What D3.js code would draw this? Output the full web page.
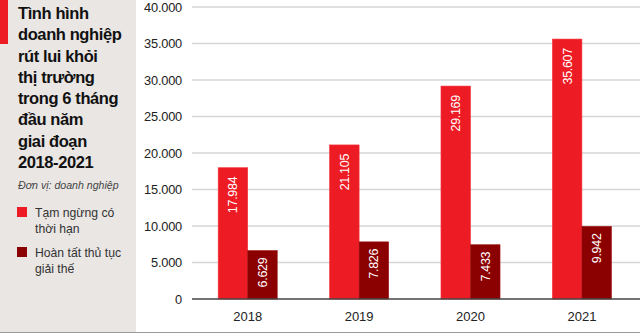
<!DOCTYPE html>
<html><head><meta charset="utf-8">
<script src="https://cdn.jsdelivr.net/npm/d3@7"></script>
<style>
html,body{margin:0;padding:0;background:#fff;}
svg{display:block;}
</style></head>
<body>
<svg id="c" width="640" height="335"></svg>
<script>
const years = ["2018","2019","2020","2021"];
const tamNgung = [17984, 21105, 29169, 35607];
const giaiThe = [6629, 7826, 7433, 9942];
const yTicks = [0,5000,10000,15000,20000,25000,30000,35000,40000];
const titleLines = ["Tình hình","doanh nghiệp","rút lui khỏi","thị trường","trong 6 tháng","đầu năm","giai đoạn","2018-2021"];
const unitText = "Đơn vị: doanh nghiệp";
const seriesNames = [["Tạm ngừng có","thời hạn"],["Hoàn tất thủ tục","giải thế"]];
const colors = ["#ed1c24","#8b0000"];

const svg = d3.select("#c");
const fmt = v => d3.format(",")(v).replace(/,/g,".");

// left panel
svg.append("rect").attr("x",0).attr("y",0).attr("width",136).attr("height",332).attr("fill","#e9e6e3");
svg.append("rect").attr("x",0).attr("y",0).attr("width",8).attr("height",44).attr("fill","#ed1c24");
svg.append("line").attr("x1",0).attr("x2",640).attr("y1",332.5).attr("y2",332.5).attr("stroke","#9a9a9a").attr("stroke-width",1);

const tg = svg.append("text").attr("font-family","Liberation Sans, Arial, sans-serif").attr("font-weight","bold")
  .attr("font-size",16.5).attr("fill","#111").attr("letter-spacing",-0.4);
titleLines.forEach((t,i)=>{
  tg.append("tspan").attr("x",18).attr("y",19+i*21.25).text(t);
});
svg.append("text").attr("x",18).attr("y",189).attr("font-family","Liberation Sans, Arial, sans-serif")
  .attr("font-style","italic").attr("font-size",10.6).attr("fill","#444").text(unitText);

const legY = [207,247];
seriesNames.forEach((lines,i)=>{
  svg.append("rect").attr("x",17).attr("y",legY[i]).attr("width",10).attr("height",10).attr("fill",colors[i]);
  const t = svg.append("text").attr("font-family","Liberation Sans, Arial, sans-serif").attr("font-size",12.2).attr("fill","#333");
  lines.forEach((l,j)=>t.append("tspan").attr("x",35).attr("y",legY[i]+9.5+j*16).text(l));
});

// chart
const y = d3.scaleLinear().domain([0,40000]).range([299,7]);
const x = d3.scaleBand().domain(years).range([192,637.6]).paddingInner(0.47).paddingOuter(0.235);
const x1 = d3.scaleBand().domain([0,1]).range([0,x.bandwidth()]);

const yAxis = d3.axisLeft(y).tickValues(yTicks).tickFormat(fmt).tickSize(0).tickPadding(10);
const ga = svg.append("g").attr("transform","translate(192,0)").call(yAxis);
ga.select(".domain").remove();
ga.selectAll("text").attr("font-family","Liberation Sans, Arial, sans-serif").attr("font-size",12.8).attr("fill","#222").attr("letter-spacing",-0.2);

svg.append("g").selectAll("line").data(yTicks.filter(d=>d>0)).join("line")
  .attr("x1",192).attr("x2",640).attr("y1",d=>y(d)).attr("y2",d=>y(d))
  .attr("stroke","#d6d6d6").attr("stroke-width",1.5);

const data = years.map((yr,i)=>({yr, vals:[tamNgung[i], giaiThe[i]]}));
const g = svg.append("g").selectAll("g").data(data).join("g").attr("transform",d=>`translate(${x(d.yr)},0)`);
g.selectAll("rect").data(d=>d.vals.map((v,k)=>({v,k}))).join("rect")
  .attr("x",d=>x1(d.k)).attr("width",x1.bandwidth()).attr("y",d=>y(d.v)).attr("height",d=>y(0)-y(d.v))
  .attr("fill",d=>colors[d.k]).attr("stroke",d=>d.k===0?"#f5333a":"#9a1010").attr("stroke-width",0.6);
g.selectAll("text.v").data(d=>d.vals.map((v,k)=>({v,k}))).join("text").attr("class","v")
  .attr("transform",d=>`translate(${x1(d.k)+x1.bandwidth()/2+4.5},${y(d.v)+(d.k===0?9:7)}) rotate(-90)`)
  .attr("text-anchor","end").attr("font-family","Liberation Sans, Arial, sans-serif").attr("font-size",12.5)
  .attr("fill","#fff").attr("letter-spacing",-0.3).text(d=>fmt(d.v));

svg.append("line").attr("x1",192).attr("x2",640).attr("y1",y(0)).attr("y2",y(0)).attr("stroke","#444").attr("stroke-width",1.5);

const xAxis = d3.axisBottom(x).tickSize(0).tickPadding(13);
const gx = svg.append("g").attr("transform",`translate(0,${y(0)})`).call(xAxis);
gx.select(".domain").remove();
gx.selectAll("text").attr("font-family","Liberation Sans, Arial, sans-serif").attr("font-size",13).attr("fill","#222");
</script>
</body></html>
